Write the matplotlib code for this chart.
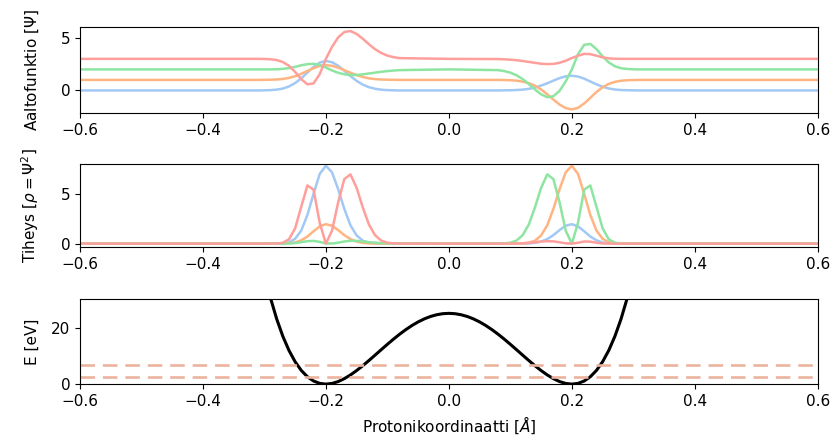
#!/usr/bin/env python3
"""
Double-well proton potential: wave functions, densities and energy levels.

Outputs:
  out.png
"""

import numpy as np
import matplotlib.pyplot as plt


# ---- Values ----
# sample positions (Å): flat far field, left well, barrier top, right well
X = [
    -0.60,
    -0.32, -0.31, -0.30, -0.29, -0.28, -0.27, -0.26, -0.25, -0.24, -0.23, -0.22, -0.21, -0.20,
    -0.19, -0.18, -0.17, -0.16, -0.15, -0.14, -0.13, -0.12, -0.11, -0.10, -0.09, -0.08,
    0.00,
    0.08, 0.09, 0.10, 0.11, 0.12, 0.13, 0.14, 0.15, 0.16, 0.17, 0.18, 0.19, 0.20,
    0.21, 0.22, 0.23, 0.24, 0.25, 0.26, 0.27, 0.28, 0.29, 0.30, 0.31, 0.32,
    0.60,
]

# wave functions (without vertical offset)
PSI_0 = [
    0,
    0, 0, 0.01, 0.03, 0.08, 0.18, 0.38, 0.70, 1.15, 1.70, 2.24, 2.65, 2.80,
    2.68, 2.34, 1.87, 1.36, 0.91, 0.55, 0.31, 0.16, 0.07, 0.03, 0.01, 0,
    0,
    0, 0.01, 0.02, 0.04, 0.08, 0.15, 0.28, 0.46, 0.68, 0.93, 1.17, 1.34, 1.40,
    1.32, 1.12, 0.85, 0.58, 0.35, 0.19, 0.09, 0.04, 0.02, 0.01, 0, 0,
    0,
]
PSI_1 = [
    0,
    0, 0, 0.01, 0.02, 0.04, 0.09, 0.19, 0.35, 0.58, 0.85, 1.12, 1.32, 1.40,
    1.34, 1.17, 0.93, 0.68, 0.46, 0.28, 0.15, 0.08, 0.04, 0.02, 0.01, 0,
    0,
    0, -0.01, -0.03, -0.07, -0.16, -0.31, -0.55, -0.91, -1.36, -1.87, -2.34, -2.68, -2.80,
    -2.65, -2.24, -1.70, -1.15, -0.70, -0.38, -0.18, -0.08, -0.03, -0.01, 0, 0,
    0,
]
PSI_2 = [
    0,
    0, 0, 0, 0, 0.01, 0.05, 0.12, 0.24, 0.39, 0.50, 0.53, 0.42, 0.18,
    -0.10, -0.32, -0.47, -0.54, -0.53, -0.47, -0.39, -0.31, -0.23, -0.16, -0.11, -0.07,
    0,
    -0.07, -0.16, -0.31, -0.56, -0.92, -1.39, -1.91, -2.37, -2.64, -2.55, -2.04, -1.14, 0,
    1.45, 2.33, 2.42, 1.93, 1.24, 0.66, 0.30, 0.11, 0.04, 0.01, 0, 0,
    0,
]
PSI_3 = [
    0,
    0, 0, -0.01, -0.04, -0.11, -0.30, -0.66, -1.24, -1.93, -2.42, -2.33, -1.45, 0,
    1.14, 2.04, 2.55, 2.64, 2.37, 1.91, 1.39, 0.92, 0.56, 0.31, 0.16, 0.07,
    0,
    -0.02, -0.04, -0.08, -0.13, -0.20, -0.29, -0.38, -0.46, -0.50, -0.48, -0.37, -0.18, 0.08,
    0.30, 0.47, 0.45, 0.30, 0.14, 0.05, 0.01, 0, 0, 0, 0, 0,
    0,
]
PSI = [PSI_0, PSI_1, PSI_2, PSI_3]
OFFSETS = [0, 1, 2, 3]

# densities rho = psi^2
RHO_0 = [
    0,
    0, 0, 0, 0, 0.01, 0.03, 0.14, 0.49, 1.32, 2.89, 5.02, 7.02, 7.84,
    7.18, 5.48, 3.50, 1.85, 0.83, 0.30, 0.10, 0.03, 0.005, 0, 0, 0,
    0,
    0, 0, 0, 0.002, 0.01, 0.02, 0.08, 0.21, 0.46, 0.86, 1.37, 1.80, 1.96,
    1.74, 1.25, 0.72, 0.34, 0.12, 0.04, 0.01, 0, 0, 0, 0, 0,
    0,
]
RHO_1 = [
    0,
    0, 0, 0, 0, 0.002, 0.01, 0.04, 0.12, 0.34, 0.72, 1.25, 1.74, 1.96,
    1.80, 1.37, 0.86, 0.46, 0.21, 0.08, 0.02, 0.01, 0, 0, 0, 0,
    0,
    0, 0, 0.001, 0.005, 0.03, 0.10, 0.30, 0.83, 1.85, 3.50, 5.48, 7.18, 7.84,
    7.02, 5.02, 2.89, 1.32, 0.49, 0.14, 0.03, 0.01, 0, 0, 0, 0,
    0,
]
RHO_2 = [
    0,
    0, 0, 0, 0, 0, 0.003, 0.014, 0.06, 0.15, 0.25, 0.28, 0.18, 0.03,
    0.01, 0.10, 0.22, 0.29, 0.28, 0.22, 0.15, 0.10, 0.05, 0.03, 0.01, 0.005,
    0,
    0.005, 0.026, 0.096, 0.31, 0.85, 1.93, 3.65, 5.62, 6.97, 6.50, 4.16, 1.30, 0,
    2.10, 5.43, 5.86, 3.72, 1.54, 0.44, 0.09, 0.01, 0, 0, 0, 0,
    0,
]
RHO_3 = [
    0,
    0, 0, 0, 0.002, 0.01, 0.09, 0.44, 1.54, 3.72, 5.86, 5.43, 2.10, 0,
    1.30, 4.16, 6.50, 6.97, 5.62, 3.65, 1.93, 0.85, 0.31, 0.10, 0.03, 0.005,
    0,
    0, 0, 0.006, 0.02, 0.04, 0.08, 0.14, 0.21, 0.25, 0.23, 0.14, 0.03, 0.006,
    0.09, 0.22, 0.20, 0.09, 0.02, 0.003, 0, 0, 0, 0, 0, 0,
    0,
]
RHO = [RHO_0, RHO_1, RHO_2, RHO_3]

# potential (eV)
X_POT = [
    -0.30, -0.29, -0.28, -0.27, -0.26, -0.25, -0.24, -0.23, -0.22, -0.21, -0.20,
    -0.19, -0.18, -0.17, -0.16, -0.15, -0.14, -0.13, -0.12, -0.11, -0.10,
    -0.09, -0.08, -0.07, -0.06, -0.05, -0.04, -0.03, -0.02, -0.01, 0.00,
    0.01, 0.02, 0.03, 0.04, 0.05, 0.06, 0.07, 0.08, 0.09, 0.10,
    0.11, 0.12, 0.13, 0.14, 0.15, 0.16, 0.17, 0.18, 0.19, 0.20,
    0.21, 0.22, 0.23, 0.24, 0.25, 0.26, 0.27, 0.28, 0.29, 0.30,
]
V_POT = [
    39.06, 30.39, 23.04, 16.91, 11.90, 7.91, 4.84, 2.60, 1.10, 0.26, 0.00,
    0.24, 0.90, 1.93, 3.24, 4.79, 6.50, 8.34, 10.24, 12.16, 14.06,
    15.90, 17.64, 19.25, 20.70, 21.97, 23.04, 23.89, 24.50, 24.88, 25.00,
    24.88, 24.50, 23.89, 23.04, 21.97, 20.70, 19.25, 17.64, 15.90, 14.06,
    12.16, 10.24, 8.34, 6.50, 4.79, 3.24, 1.93, 0.90, 0.24, 0.00,
    0.26, 1.10, 2.60, 4.84, 7.91, 11.90, 16.91, 23.04, 30.39, 39.06,
]
ENERGY_LEVELS = [2.4, 6.8]

X_TICKS = [-0.6, -0.4, -0.2, 0.0, 0.2, 0.4, 0.6]

COLORS = ["#a1c9f4", "#ffb482", "#8de5a1", "#ff9f9b"]
LEVEL_COLOR = "#ebb49e"


def main() -> None:
    plt.rcParams["font.size"] = 11

    fig = plt.figure(figsize=(8.32, 4.4), dpi=100)

    ax_psi = fig.add_axes([0.096, 0.743, 0.887, 0.195])
    ax_rho = fig.add_axes([0.096, 0.439, 0.887, 0.189])
    ax_pot = fig.add_axes([0.096, 0.127, 0.887, 0.193])

    x = np.array(X)

    # ---- Wave functions ----
    for psi, off, col in zip(PSI, OFFSETS, COLORS):
        ax_psi.plot(x, np.array(psi) + off, color=col, lw=1.8)
    ax_psi.set_ylim(-2.15, 6.0)
    ax_psi.set_yticks([0, 5])
    ax_psi.set_ylabel(r"Aaltofunktio [$\Psi$]", labelpad=14)

    # ---- Densities ----
    for rho, col in zip(RHO, COLORS):
        ax_rho.plot(x, rho, color=col, lw=1.8)
    ax_rho.set_ylim(-0.32, 8.05)
    ax_rho.set_yticks([0, 5])
    ax_rho.set_ylabel(r"Tiheys [$\rho = \Psi^2$]", labelpad=14)

    # ---- Potential and energy levels ----
    ax_pot.plot(X_POT, V_POT, color="black", lw=2.2)
    for e in ENERGY_LEVELS:
        ax_pot.axhline(e, color=LEVEL_COLOR, lw=1.9, dashes=(5.5, 3.0))
    ax_pot.set_ylim(0, 30)
    ax_pot.set_yticks([0, 20])
    ax_pot.set_ylabel("E [eV]", labelpad=8)
    ax_pot.set_xlabel(r"Protonikoordinaatti [$\AA$]")

    for ax in (ax_psi, ax_rho, ax_pot):
        ax.set_xlim(-0.6, 0.6)
        ax.set_xticks(X_TICKS)

    fig.savefig("out.png", dpi=100)
    plt.close(fig)


if __name__ == "__main__":
    main()
